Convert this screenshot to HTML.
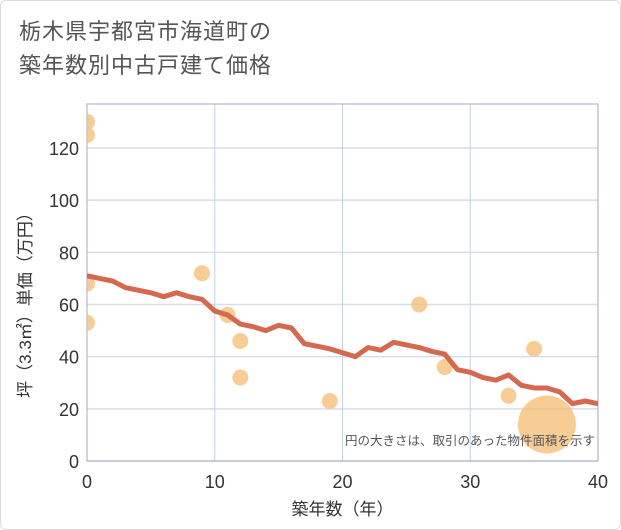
<!DOCTYPE html>
<html><head><meta charset="utf-8">
<style>
body{margin:0;background:#fff;font-family:"Liberation Sans","Noto Sans CJK JP",sans-serif;}
.wrap{position:relative;width:619px;height:528px;border:1px solid #ddd;border-radius:6px;overflow:hidden;}
.title{position:absolute;left:18px;top:14px;font-size:22px;line-height:34px;color:#555;letter-spacing:1px;}
</style></head><body>
<div class="wrap">
<div class="title">栃木県宇都宮市海道町の<br>築年数別中古戸建て価格</div>
<svg id="chart" width="621" height="530" style="position:absolute;left:0;top:0"><defs><clipPath id="pc"><rect x="86" y="103" width="511" height="357"/></clipPath></defs></svg>
</div>
<script>
const lineYears=[0,1,2,3,4,5,6,7,8,9,10,11,12,13,14,15,16,17,18,19,20,21,22,23,24,25,26,27,28,29,30,31,32,33,34,35,36,37,38,39,40];
const lineValues=[71,70,69,66.5,65.5,64.5,63,64.5,63,62,57.5,56,52.5,51.5,50,52,51,45,44,43,41.5,40,43.5,42.5,45.5,44.5,43.5,42,41,35,34,32,31,33,29,28,28,26.5,22,23,22];
const ptYears=[0,0,0,0,9,11,12,12,19,26,28,33,35,36];
const ptValues=[130,125,68,53,72,56,46,32,23,60,36,25,43,14];
const ptSizes=[1,1,1,1,1,1,1,1,1,1,1,1,1,10];
const xTicks=[0,10,20,30,40];
const yTicks=[0,20,40,60,80,100,120];
const NS='http://www.w3.org/2000/svg';
const svg=document.getElementById('chart');
const L=86,R=597,T=103,B=460;
const xs=v=>L+(R-L)*v/40;
const ys=v=>B-(B-147)*v/120;
function el(tag,attrs,parent){const e=document.createElementNS(NS,tag);for(const k in attrs)e.setAttribute(k,attrs[k]);(parent||svg).appendChild(e);return e;}
for(const t of yTicks){
 const g=el('line',{x1:L,x2:R,y1:ys(t),y2:ys(t),stroke:'#d5dde8','stroke-width':1.5});
 
 
 const tx=el('text',{x:L-8,y:ys(t)+7,'text-anchor':'end','font-size':18,fill:'#333'});
 tx.textContent=t;
 
 
}
for(const t of xTicks){
 const g=el('line',{x1:xs(t),x2:xs(t),y1:T,y2:B,stroke:'#c5d0dc','stroke-width':1});
 
 
 const tx=el('text',{x:xs(t),y:B+27,'text-anchor':'middle','font-size':18,fill:'#333'});
 tx.textContent=t;
 
 
}
const box=el('rect',{x:L,y:T,width:R-L,height:B-T,fill:'none',stroke:'#aab','stroke-width':1});


const grp=el('g',{'clip-path':'url(#pc)'});


for(let i=0;i<ptYears.length;i++){
 const r=ptSizes[i]>1?29:8;
 const c=el('circle',{cx:xs(ptYears[i]),cy:ys(ptValues[i]),r:r,fill:'#f5c07a','fill-opacity':0.8},grp);
 
 
}
const pl=el('polyline',{points:lineYears.map((y,i)=>xs(y)+','+ys(lineValues[i])).join(' '),fill:'none',stroke:'#d4694f','stroke-width':5,'stroke-linejoin':'round'},grp);


const note=el('text',{x:594,y:444,'text-anchor':'end','font-size':12.5,fill:'#555'});
note.textContent='円の大きさは、取引のあった物件面積を示す';


const xt=el('text',{x:(L+R)/2,y:514,'text-anchor':'middle','font-size':17,fill:'#333'});
xt.textContent='築年数（年）';


const yt=el('text',{x:30,y:300,'text-anchor':'middle','font-size':17,fill:'#333',transform:'rotate(-90 30 300)'});
yt.textContent='坪（3.3㎡）単価（万円）';


</script>
</body></html>
